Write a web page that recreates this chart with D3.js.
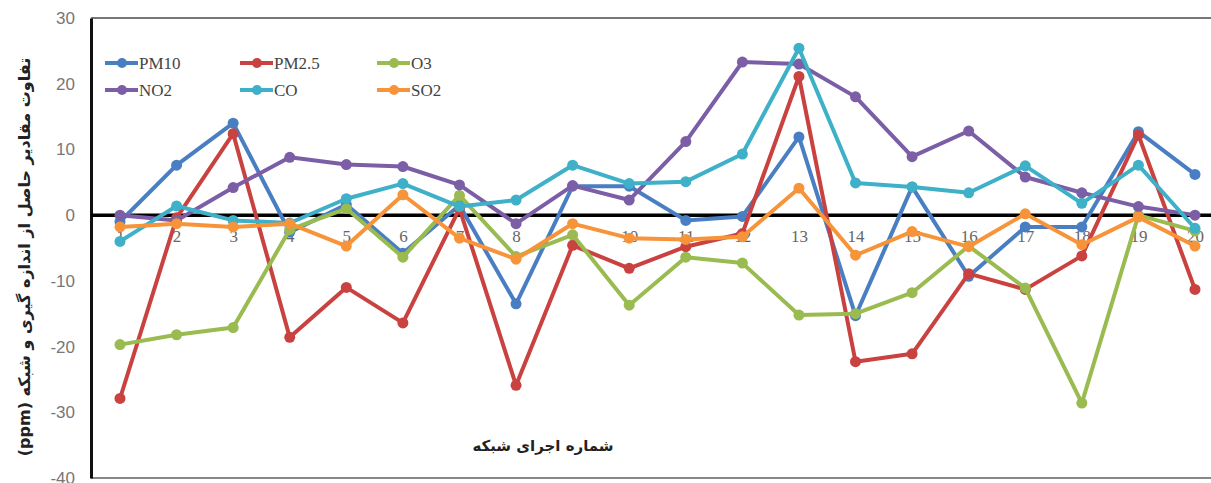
<!DOCTYPE html>
<html>
<head>
    <meta charset="utf-8">
    <style>
        body {
            margin: 0;
            background: white;
        }

        svg {
            display: block;
        }

        .title {
            font-family: "DejaVu Sans", sans-serif;
            font-weight: bold;
            fill: #222;
        }
    </style>
</head>

<body>
    <svg width="1211" height="483"></svg>

<script src="https://d3js.org/d3.v7.min.js"></script>
<script>
    // run number of the network
    let runs = d3.range(1, 21)

    let yTicks = [30, 20, 10, 0, -10, -20, -30, -40]

    let seriesNames = ["PM10", "PM2.5", "O3", "NO2", "CO", "SO2"]
    let seriesColors = ["#4a7ec2", "#c9423f", "#99bb4f", "#7c5ea6", "#3eb0c8", "#f7943a"]

    let pm10 = [-1, 7.6, 14, -2.6, 1.6, -5.8, 1.5, -13.5, 4.4, 4.4, -0.8, -0.2, 11.9, -15.3, 4.3, -9.3, -1.8, -1.8, 12.7, 6.2]
    let pm25 = [-27.9, -0.4, 12.4, -18.6, -11, -16.4, 1, -25.9, -4.6, -8.1, -4.8, -2.8, 21.1, -22.3, -21.1, -8.9, -11.3, -6.2, 12.2, -11.3]
    let o3 = [-19.7, -18.2, -17.1, -2.2, 1, -6.4, 3, -6.3, -3, -13.7, -6.4, -7.3, -15.2, -15, -11.8, -4.7, -11.1, -28.6, 0, -2.4]
    let no2 = [0, -0.8, 4.2, 8.8, 7.7, 7.4, 4.6, -1.3, 4.5, 2.3, 11.2, 23.3, 23, 18, 8.9, 12.8, 5.8, 3.4, 1.3, 0]
    let co = [-4, 1.4, -0.8, -1.2, 2.5, 4.8, 1.3, 2.3, 7.6, 4.8, 5.1, 9.3, 25.4, 4.9, 4.3, 3.4, 7.5, 1.8, 7.6, -2]
    let so2 = [-1.8, -1.3, -1.8, -1.3, -4.7, 3.1, -3.5, -6.7, -1.3, -3.5, -3.7, -3.3, 4.1, -6.1, -2.5, -4.8, 0.2, -4.5, -0.3, -4.7]

    let allSeries = [pm10, pm25, o3, no2, co, so2]

    let svg = d3.select("svg")

    let plotLeft = 91
    let plotTop = 18
    let plotBottom = 478

    let x = d3.scalePoint()
        .domain(runs)
        .range([120, 1195])

    let y = d3.scaleLinear()
        .domain([-40, 30])
        .range([plotBottom, plotTop])

    // plot area frame (top and bottom, grey)
    svg.append("line")
        .attr("x1", plotLeft).attr("x2", 1211)
        .attr("y1", plotTop).attr("y2", plotTop)
        .style("stroke", "#777")
        .style("stroke-width", 2)

    svg.append("line")
        .attr("x1", plotLeft).attr("x2", 1211)
        .attr("y1", plotBottom).attr("y2", plotBottom)
        .style("stroke", "#888")
        .style("stroke-width", 2)

    // y axis (plain hyphen for negatives, like the original)
    let yAxis = svg.append("g")
        .attr("transform", `translate(${plotLeft},0)`)
        .call(d3.axisLeft(y).tickValues(yTicks).tickSize(0).tickPadding(16)
            .tickFormat(d => String(d)))

    yAxis.select(".domain")
        .style("stroke", "#111")
        .style("stroke-width", 3)

    yAxis.selectAll("text")
        .style("font-family", "'Liberation Sans', Arial, sans-serif")
        .style("font-size", "17px")
        .style("fill", "#777")

    // x axis on the zero line
    let xAxis = svg.append("g")
        .attr("transform", `translate(0,${y(0)})`)
        .call(d3.axisBottom(x).tickSize(0).tickPadding(15))

    xAxis.select(".domain").remove()

    xAxis.selectAll("text")
        .style("font-family", "'Liberation Serif', 'Times New Roman', serif")
        .style("font-size", "17px")
        .style("fill", "#666")

    svg.append("line")
        .attr("x1", plotLeft).attr("x2", 1211)
        .attr("y1", y(0)).attr("y2", y(0))
        .style("stroke", "#000")
        .style("stroke-width", 3.5)

    // series
    let line = d3.line()
        .x((d, i) => x(runs[i]))
        .y(d => y(d))

    allSeries.forEach((vals, k) => {
        let g = svg.append("g")

        g.append("path")
            .datum(vals)
            .attr("d", line)
            .style("fill", "none")
            .style("stroke", seriesColors[k])
            .style("stroke-width", 4)
            .style("stroke-linejoin", "round")

        g.selectAll("circle")
            .data(vals)
            .join("circle")
            .attr("cx", (d, i) => x(runs[i]))
            .attr("cy", d => y(d))
            .attr("r", 5.5)
            .style("fill", seriesColors[k])
    })

    // legend, 3 columns x 2 rows
    let colX = [105, 240, 377]
    let rowY = [63, 90]

    let legend = svg.append("g")

    seriesNames.forEach((name, k) => {
        let lx = colX[k % 3]
        let ly = rowY[Math.floor(k / 3)]
        legend.append("line")
            .attr("x1", lx).attr("x2", lx + 33)
            .attr("y1", ly).attr("y2", ly)
            .style("stroke", seriesColors[k])
            .style("stroke-width", 4)
        legend.append("circle")
            .attr("cx", lx + 17).attr("cy", ly)
            .attr("r", 5)
            .style("fill", seriesColors[k])
        legend.append("text")
            .attr("x", lx + 34).attr("y", ly)
            .attr("dy", "0.35em")
            .style("font-family", "'Liberation Serif', 'Times New Roman', serif")
            .style("font-size", "17px")
            .style("fill", "#444")
            .text(name)
    })

    // axis titles
    svg.append("text")
        .attr("class", "title")
        .attr("transform", "translate(24,257) rotate(-90)")
        .attr("text-anchor", "middle")
        .attr("dy", "0.35em")
        .attr("direction", "rtl")
        .style("font-size", "16px")
        .text("تفاوت مقادیر حاصل از اندازه گیری و شبکه (ppm)")

    svg.append("text")
        .attr("class", "title")
        .attr("x", 543)
        .attr("y", 446)
        .attr("text-anchor", "middle")
        .attr("dy", "0.35em")
        .attr("direction", "rtl")
        .style("font-size", "15px")
        .text("شماره اجرای شبکه")
</script>
</body>
</html>
